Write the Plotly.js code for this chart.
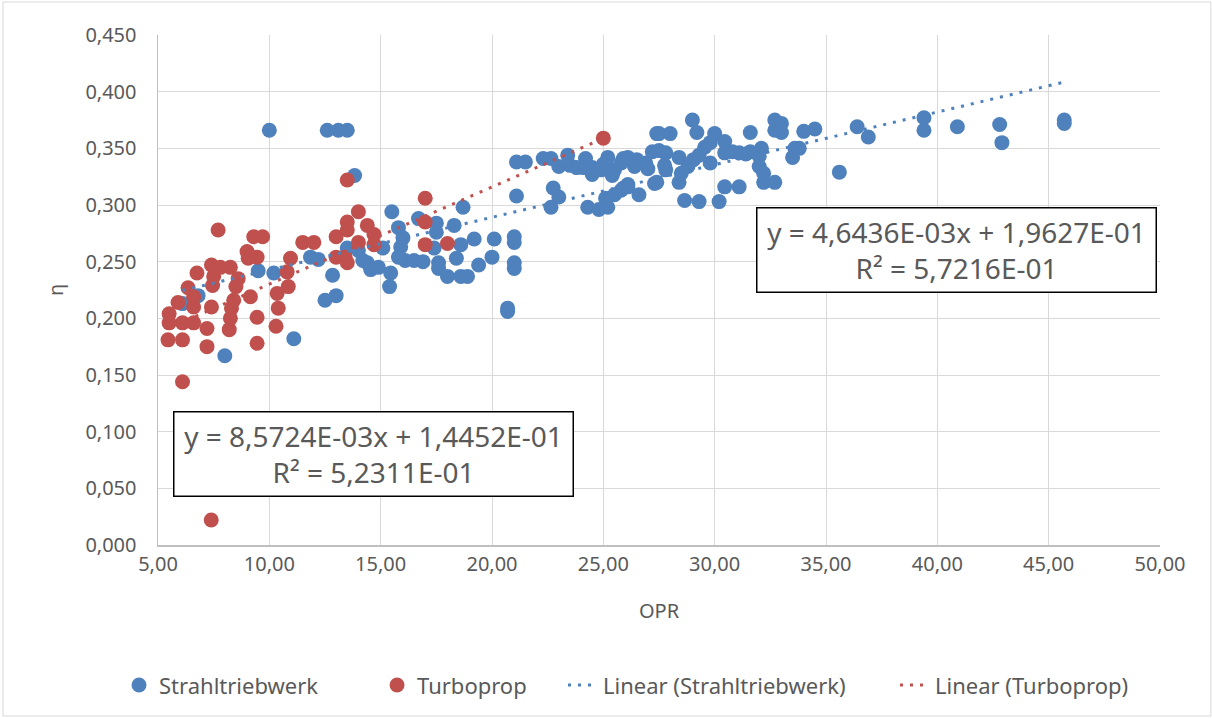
<!DOCTYPE html>
<html>
<head>
<meta charset="utf-8">
<script src="https://cdn.plot.ly/plotly-3.0.1.min.js"></script>
<style>
html,body{margin:0;padding:0;background:#fff;}
#chart{width:1212px;height:718px;}
</style>
</head>
<body>
<div id="chart"></div>
<script>
// ---- Data: Strahltriebwerk (jet engines) ----
const jetOPR = [
  6.1, 6.8, 8.0, 9.5, 10.2, 10.0, 11.1, 11.85, 12.2, 12.5, 13.0, 12.84, 12.6, 13.1, 13.5, 13.83,
  13.5, 14.0, 14.2, 14.4, 14.55, 14.9, 15.1, 15.45, 15.4, 15.5, 15.8, 16.0, 15.9, 15.8, 16.1, 16.5,
  16.9, 16.7, 17.5, 17.5, 17.4, 17.6, 17.6, 18.0, 18.3, 18.4, 18.6, 18.6, 18.7, 18.9, 19.2, 19.4,
  20.0, 20.1, 20.7, 20.7, 21.0, 21.0, 21.0, 21.0, 21.1, 21.5, 21.1, 22.3, 22.65, 23.0, 23.4, 23.5,
  22.75, 23.0, 22.65, 24.2, 24.5, 24.5, 24.3, 24.8, 25.2, 25.1, 25.5, 25.9, 24.9, 25.2, 25.4, 25.5,
  25.9, 26.1, 25.8, 26.5, 26.4, 26.1, 25.8, 26.6, 26.1, 27.2, 27.5, 27.8, 28.4, 27.75, 27.8, 27.3,
  27.4, 27.5, 28.0, 27.4, 28.4, 28.5, 28.8, 29.05, 29.3, 29.55, 29.8, 29.8, 29.0, 29.2, 28.65, 29.3,
  30.2, 30.45, 31.1, 30.0, 30.45, 30.45, 31.1, 31.6, 32.1, 32.0, 32.0, 32.2, 32.2, 32.7, 31.6, 32.7,
  32.7, 33.0, 33.0, 33.5, 33.6, 33.8, 34.0, 34.5, 35.6, 36.4, 36.9, 39.4, 39.4, 40.9, 42.8, 42.9,
  45.7, 45.7, 24.1, 25.0, 26.9, 31.4, 30.8, 23.8, 27.0
];
const jetEta = [
  0.213, 0.220, 0.167, 0.242, 0.240, 0.366, 0.182, 0.254, 0.252, 0.216, 0.220, 0.238, 0.366, 0.366, 0.366, 0.326,
  0.262, 0.260, 0.251, 0.249, 0.243, 0.245, 0.262, 0.240, 0.228, 0.294, 0.280, 0.271, 0.263, 0.254, 0.251, 0.251,
  0.250, 0.288, 0.284, 0.276, 0.262, 0.244, 0.249, 0.237, 0.282, 0.253, 0.265, 0.237, 0.298, 0.237, 0.270, 0.247,
  0.254, 0.270, 0.209, 0.206, 0.272, 0.267, 0.249, 0.244, 0.338, 0.338, 0.308, 0.341, 0.341, 0.334, 0.344, 0.335,
  0.315, 0.307, 0.298, 0.341, 0.333, 0.327, 0.298, 0.296, 0.298, 0.306, 0.309, 0.315, 0.331, 0.342, 0.326, 0.331,
  0.341, 0.342, 0.337, 0.340, 0.334, 0.318, 0.313, 0.309, 0.316, 0.347, 0.348, 0.346, 0.342, 0.335, 0.331, 0.319,
  0.320, 0.363, 0.363, 0.363, 0.320, 0.328, 0.334, 0.340, 0.344, 0.351, 0.355, 0.337, 0.375, 0.364, 0.304, 0.303,
  0.303, 0.316, 0.316, 0.363, 0.356, 0.346, 0.346, 0.347, 0.350, 0.343, 0.334, 0.328, 0.320, 0.320, 0.364, 0.375,
  0.366, 0.372, 0.364, 0.342, 0.350, 0.350, 0.365, 0.367, 0.329, 0.369, 0.360, 0.377, 0.366, 0.369, 0.371, 0.355,
  0.375, 0.372, 0.333, 0.336, 0.337, 0.345, 0.347, 0.333, 0.332
];
// ---- Data: Turboprop ----
const tpOPR = [
  7.39, 6.1, 5.45, 6.1, 7.2, 9.45, 5.5, 6.1, 6.6, 7.2, 8.2, 10.3, 5.5, 6.6, 7.4, 8.3,
  8.25, 9.45, 10.4, 5.9, 6.6, 8.4, 9.15, 10.35, 6.35, 7.45, 8.5, 10.85, 6.75, 7.5, 8.6, 10.8,
  7.4, 7.8, 8.25, 9.0, 9.05, 9.45, 10.95, 7.7, 9.3, 9.7, 11.5, 12.0, 13.0, 13.0, 13.4, 13.5,
  13.5, 13.5, 13.5, 14.0, 14.4, 14.7, 14.7, 14.0, 17.0, 17.0, 17.0, 18.0, 25.0
];
const tpEta = [
  0.022, 0.144, 0.181, 0.181, 0.175, 0.178, 0.196, 0.196, 0.196, 0.191, 0.190, 0.193, 0.204, 0.210, 0.210, 0.209,
  0.200, 0.201, 0.209, 0.214, 0.219, 0.216, 0.219, 0.222, 0.227, 0.229, 0.228, 0.228, 0.240, 0.237, 0.235, 0.241,
  0.247, 0.245, 0.245, 0.259, 0.253, 0.254, 0.253, 0.278, 0.272, 0.272, 0.267, 0.267, 0.272, 0.254, 0.254, 0.249,
  0.285, 0.278, 0.322, 0.294, 0.282, 0.274, 0.265, 0.267, 0.306, 0.285, 0.265, 0.266, 0.359
];
// ---- Linear trend coefficients (as shown in the chart) ----
const jetSlope = 4.6436e-3, jetIntercept = 1.9627e-1;
const tpSlope = 8.5724e-3, tpIntercept = 1.4452e-1;
const jetEqText = "y = 4,6436E-03x + 1,9627E-01<br>R² = 5,7216E-01";
const tpEqText = "y = 8,5724E-03x + 1,4452E-01<br>R² = 5,2311E-01";
const seriesNames = ["Strahltriebwerk", "Turboprop", "Linear (Strahltriebwerk)", "Linear (Turboprop)"];

const BLUE = "#4F81BD", RED = "#C0504D", TXT = "#595959";
const FONT = "Noto Sans, sans-serif";

function trend(xs, m, b) {
  const x0 = Math.min(...xs), x1 = Math.max(...xs);
  return {x: [x0, x1], y: [m * x0 + b, m * x1 + b]};
}
const jt = trend(jetOPR, jetSlope, jetIntercept);
const tt = trend(tpOPR, tpSlope, tpIntercept);

const traces = [
  {type: "scatter", mode: "markers", name: seriesNames[0], x: jetOPR, y: jetEta, legend: "legend",
   marker: {color: BLUE, size: 15}, hoverinfo: "skip"},
  {type: "scatter", mode: "markers", name: seriesNames[1], x: tpOPR, y: tpEta, legend: "legend2",
   marker: {color: RED, size: 15}, hoverinfo: "skip"},
  {type: "scatter", mode: "lines", name: seriesNames[2], x: jt.x, y: jt.y, legend: "legend3",
   line: {color: BLUE, width: 3, dash: "3px,7px"}, hoverinfo: "skip"},
  {type: "scatter", mode: "lines", name: seriesNames[3], x: tt.x, y: tt.y, legend: "legend4",
   line: {color: RED, width: 3, dash: "3px,7px"}, hoverinfo: "skip"}
];

function leg(x) {
  return {orientation: "h", x: x, xanchor: "left", y: -0.275, yanchor: "middle",
          font: {family: FONT, size: 22, color: TXT}, bgcolor: "rgba(0,0,0,0)"};
}

const layout = {
  width: 1212, height: 718,
  margin: {l: 158, r: 52, t: 35, b: 173},
  paper_bgcolor: "#fff", plot_bgcolor: "#fff",
  separators: ", ",
  font: {family: FONT, color: TXT, size: 20},
  showlegend: true,
  legend: leg(-0.0389),
  legend2: leg(0.2186),
  legend3: leg(0.4042),
  legend4: leg(0.7355),
  xaxis: {
    range: [5, 50], tick0: 5, dtick: 5, tickformat: ".2f",
    showgrid: true, gridcolor: "#d9d9d9", gridwidth: 1,
    showline: true, linecolor: "#bfbfbf", linewidth: 1.5, zeroline: false,
    ticks: "", tickfont: {family: FONT, size: 20, color: TXT},
    title: {text: "OPR", font: {family: FONT, size: 20, color: TXT}, standoff: 28}
  },
  yaxis: {
    range: [0, 0.45], tick0: 0, dtick: 0.05, tickformat: ".3f",
    showgrid: true, gridcolor: "#d9d9d9", gridwidth: 1,
    showline: true, linecolor: "#bfbfbf", linewidth: 1.5, zeroline: false,
    ticks: "", ticklabelstandoff: 16, tickfont: {family: FONT, size: 20, color: TXT},
    title: {text: "η", font: {family: FONT, size: 20, color: TXT}, standoff: 16}
  },
  annotations: [
    {xref: "paper", yref: "paper", x: 0.797, y: 0.579, xanchor: "center", yanchor: "middle",
     text: jetEqText, showarrow: false, align: "center", width: 396, height: 81,
     bgcolor: "#fff", bordercolor: "#000", borderwidth: 1.5, borderpad: 1,
     font: {family: FONT, size: 28, color: TXT}},
    {xref: "paper", yref: "paper", x: 0.215, y: 0.178, xanchor: "center", yanchor: "middle",
     text: tpEqText, showarrow: false, align: "center", width: 396, height: 81,
     bgcolor: "#fff", bordercolor: "#000", borderwidth: 1.5, borderpad: 1,
     font: {family: FONT, size: 28, color: TXT}}
  ],
  shapes: [
    {type: "rect", xref: "paper", yref: "paper", x0: -0.1547, x1: 1.0508, y0: -0.3353, y1: 1.0647,
     line: {color: "#d9d9d9", width: 1}, fillcolor: "rgba(0,0,0,0)", layer: "below"}
  ]
};

Plotly.newPlot("chart", traces, layout, {staticPlot: true, displayModeBar: false});
</script>
</body>
</html>
